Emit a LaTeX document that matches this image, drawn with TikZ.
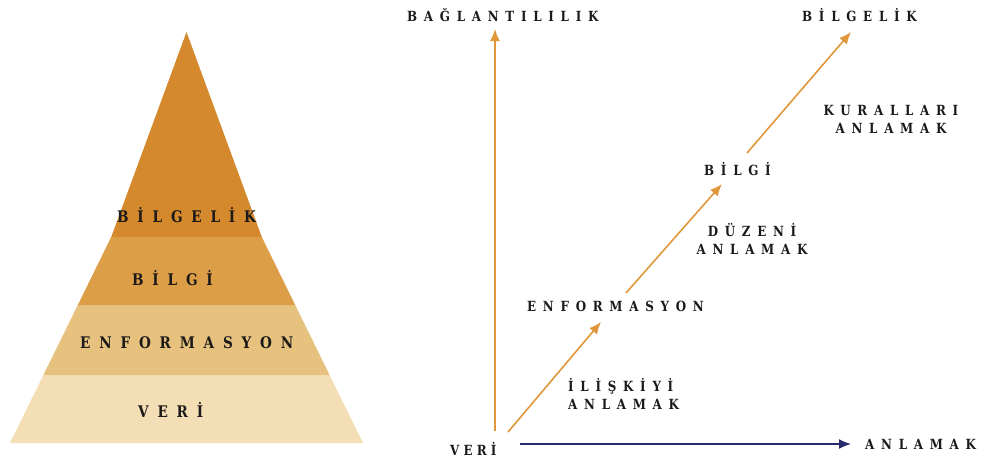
\documentclass[tikz,border=0pt]{standalone}
\usepackage{fontspec}
\usetikzlibrary{arrows.meta}
\newfontfamily\lblfont[FakeStretch=0.85]{DejaVu Serif}
\newcommand\lsp[1]{\addfontfeature{LetterSpace=#1}}
\definecolor{pyrA}{HTML}{D4892C}
\definecolor{pyrB}{HTML}{DC9F48}
\definecolor{pyrC}{HTML}{E7C27F}
\definecolor{pyrD}{HTML}{F4DEB5}
\definecolor{arrO}{HTML}{E0963A}
\definecolor{arrN}{HTML}{2B2A6E}
\definecolor{ink}{HTML}{1C1A18}
\tikzset{
  lab/.style={inner sep=0pt, text=ink, font=\lblfont\bfseries\fontsize{14}{18}\selectfont\lsp{48}},
  plab/.style={inner sep=0pt, text=ink, font=\lblfont\bfseries\fontsize{16}{18}\selectfont\lsp{55}},
  oarrow/.style={draw=arrO, line width=1.6pt, -{Latex[length=12pt,width=10pt]}},
  narrow/.style={draw=arrN, line width=1.6pt, -{Latex[length=12pt,width=10pt]}},
}
\begin{document}
\begin{tikzpicture}[x=1pt,y=-1pt]
\useasboundingbox (0,0) rectangle (984,459);
% pyramid bands
\fill[pyrD] (10,443) -- (363,443) -- (329.6,375) -- (43.4,375) -- cycle;
\fill[pyrC] (43.4,375) -- (329.6,375) -- (295.2,305) -- (77.8,305) -- cycle;
\fill[pyrB] (77.8,305) -- (295.2,305) -- (261.8,237) -- (111.2,237) -- cycle;
\fill[pyrA] (111.2,237) -- (261.8,237) -- (186.5,32) -- cycle;
\node[plab, anchor=west] (pbilgelik) at (117,215) {BİLGELİK};
\node[plab, anchor=west] (pbilgi) at (132,278) {BİLGİ};
\node[plab, anchor=west] (penf) at (80,343) {ENFORMASYON};
\node[plab, anchor=west] (pveri) at (138,410) {VERİ};
% right diagram
\node[lab, anchor=west, font=\lblfont\bfseries\fontsize{14}{18}\selectfont\lsp{30}] (veri) at (450,449) {VERİ};
\node[lab, anchor=west] (anlamak) at (865,444) {ANLAMAK};
\node[lab, anchor=west] (bag) at (407,15) {BAĞLANTILILIK};
\node[lab, anchor=west] (bilgelik) at (802,15) {BİLGELİK};
\node[lab, anchor=west] (bilgi) at (704,169) {BİLGİ};
\node[lab, anchor=west] (enf) at (527,306) {ENFORMASYON};
\node[lab, anchor=west, align=left] (iliski) at (568,394) {İLİŞKİYİ\\ANLAMAK};
\node[lab, align=center] (duzen) at (752,239) {DÜZENİ\\ANLAMAK};
\node[lab, align=center] (kural) at (891,119) {KURALLARI\\ANLAMAK};
\coordinate (vbot) at (495,431);
\coordinate (vtop) at (495,29);
\coordinate (d1s) at (508,432);
\coordinate (d1e) at (601,322);
\coordinate (d2s) at (626,293);
\coordinate (d2e) at (722,184);
\coordinate (d3s) at (747,153);
\coordinate (d3e) at (851,32);
\coordinate (hs) at (520,444);
\coordinate (he) at (851,444);
\draw[oarrow] (vbot) -- (vtop);
\draw[oarrow] (d1s) -- (d1e);
\draw[oarrow] (d2s) -- (d2e);
\draw[oarrow] (d3s) -- (d3e);
\draw[narrow] (hs) -- (he);
\end{tikzpicture}
\end{document}
